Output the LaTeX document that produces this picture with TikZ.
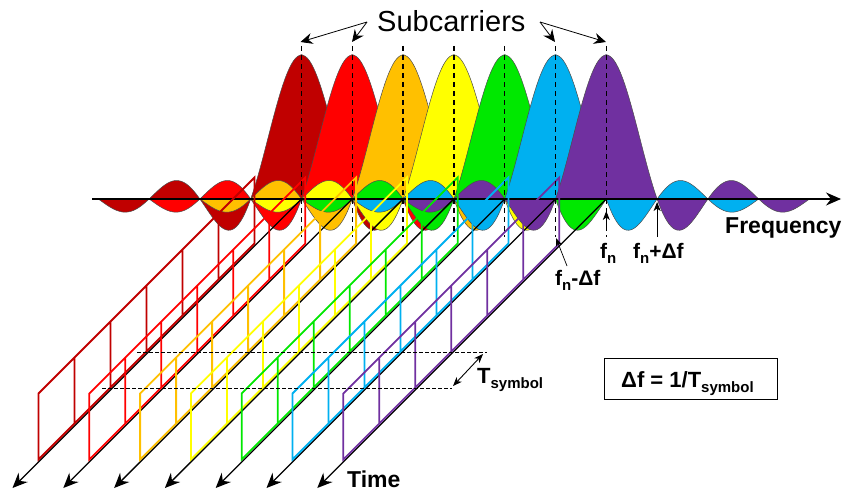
\documentclass[tikz,border=0pt]{standalone}
\usepackage{fontspec}
\setmainfont{Liberation Sans}
\usetikzlibrary{arrows.meta}
\definecolor{c0}{HTML}{C00000}
\definecolor{c1}{HTML}{FF0000}
\definecolor{c2}{HTML}{FFC000}
\definecolor{c3}{HTML}{FFFF00}
\definecolor{c4}{HTML}{00E800}
\definecolor{c5}{HTML}{00B0F0}
\definecolor{c6}{HTML}{7030A0}
\newcommand{\fsz}[1]{\fontsize{#1}{#1}\selectfont}
\begin{document}
\begin{tikzpicture}[x=1pt,y=-1pt,
  lobe/.style={draw=black!70,line width=0.5pt},
  faxis/.style={line width=1.2pt,-{Stealth[length=15pt,width=13pt,inset=5pt]}},
  taxis/.style={line width=1.3pt,-{Stealth[length=15pt,width=13pt,inset=5pt]}},
  rib/.style={line width=1.8pt,line join=miter},
  cdash/.style={line width=1.5pt,dash pattern=on 5pt off 4pt},
  hdash/.style={line width=0.7pt,dash pattern=on 3.5pt off 2.5pt},
  tarrow/.style={line width=0.8pt,-{Stealth[length=12pt,width=11pt,inset=4pt]}},
  larrow/.style={line width=0.9pt,-{Stealth[length=9pt,width=7pt,inset=2.5pt]}},
  lab/.style={font=\bfseries\fsz{21},inner sep=0pt}]
\useasboundingbox (0,0) rectangle (845,492);
% sinc spectra
\foreach \i in {0,...,6}{
  \pgfmathsetmacro\c{301.5+50.8*\i}
  \fill[lobe,fill=c\i] plot[domain=-4:4,samples=201] ({\c+50.8*\x},{199-144*sin(180*\x)/(3.14159*\x+0.000001)}) -- cycle;
}
% frequency axis
\coordinate (fa) at (92,199);
\coordinate (fb) at (841,199);
\draw[faxis] (fa) -- (fb);
% time axes
\foreach \i in {0,...,6}{
  \pgfmathsetmacro\c{301.5+50.8*\i}
  \coordinate (ta\i) at (\c,199);
  \coordinate (tb\i) at (\c-289,488);
  \draw[taxis] (ta\i) -- (tb\i);
}
% symbol ribbons
\foreach \i in {0,...,6}{
  \pgfmathsetmacro\c{301.5+50.8*\i}
  \pgfmathsetmacro\xa{\c-263}
  \draw[rib,color=c\i] (\xa,459.5) -- (\xa+216,243.5) -- (\xa+216,177.5) -- (\xa,393.5) -- cycle
    (\xa+36,423.5) -- (\xa+36,357.5)
    (\xa+72,387.5) -- (\xa+72,321.5)
    (\xa+108,351.5) -- (\xa+108,285.5)
    (\xa+144,315.5) -- (\xa+144,249.5)
    (\xa+180,279.5) -- (\xa+180,213.5);
}
% center dashed lines
\foreach \i in {0,...,6}{
  \pgfmathsetmacro\c{301.5+50.8*\i}
  \coordinate (dt\i) at (\c,46);
  \coordinate (db\i) at (\c,237);
  \draw[cdash] (dt\i) -- (db\i);
}
% T symbol dashed marks
\coordinate (h1a) at (137,352.5);
\coordinate (h1b) at (487,352.5);
\coordinate (h2a) at (102,388);
\coordinate (h2b) at (452,388);
\draw[hdash] (h1a) -- (h1b);
\draw[hdash] (h2a) -- (h2b);
\coordinate (ts1) at (453,386);
\coordinate (ts2) at (483,354);
\draw[line width=0.9pt,{Stealth[length=9pt,width=7pt,inset=2.5pt]}-{Stealth[length=9pt,width=7pt,inset=2.5pt]}] (ts1) -- (ts2);
% labels
\node[anchor=base west,inner sep=0pt,font=\fsz{29}] (sub) at (377,32) {Subcarriers};
\coordinate (sl) at (367,22);
\coordinate (sr) at (540,22);
\draw[tarrow] (sl) -- (300.5,42);
\draw[tarrow] (sl) -- (352,42);
\draw[tarrow] (sr) -- (555,42);
\draw[tarrow] (sr) -- (606,42);
\node[anchor=base west,inner sep=0pt,font=\bfseries\fsz{23}] (freq) at (725,233) {Frequency};
\node[anchor=base west,inner sep=0pt,font=\bfseries\fsz{23}] (time) at (347,487) {Time};
\node[lab,anchor=base west] (fn) at (600,258) {f\raisebox{-5pt}{\fsz{15}n}};
\node[lab,anchor=base west] (fnp) at (633,258) {f\raisebox{-5pt}{\fsz{15}n}+Δf};
\node[lab,anchor=base west] (fnm) at (555,285) {f\raisebox{-5pt}{\fsz{15}n}-Δf};
\draw[larrow] (606.3,226) -- (606.3,211);
\draw[larrow] (657.1,237) -- (657.1,202);
\draw[line width=0.7pt,-{Stealth[length=8pt,width=6pt,inset=2pt]}] (567,266) -- (556,238);
\node[anchor=base west,inner sep=0pt,font=\bfseries\fsz{22}] (tsym) at (477,383) {T\raisebox{-5pt}{\fsz{15}symbol}};
\node[draw,line width=0.8pt,minimum width=173pt,minimum height=41pt,inner sep=0pt] (box) at (690.5,378.5) {};
\node[anchor=base west,inner sep=0pt,font=\bfseries\fsz{22}] (boxt) at (621,387) {Δf = 1/T\raisebox{-5pt}{\fsz{15}symbol}};
\end{tikzpicture}
\end{document}
